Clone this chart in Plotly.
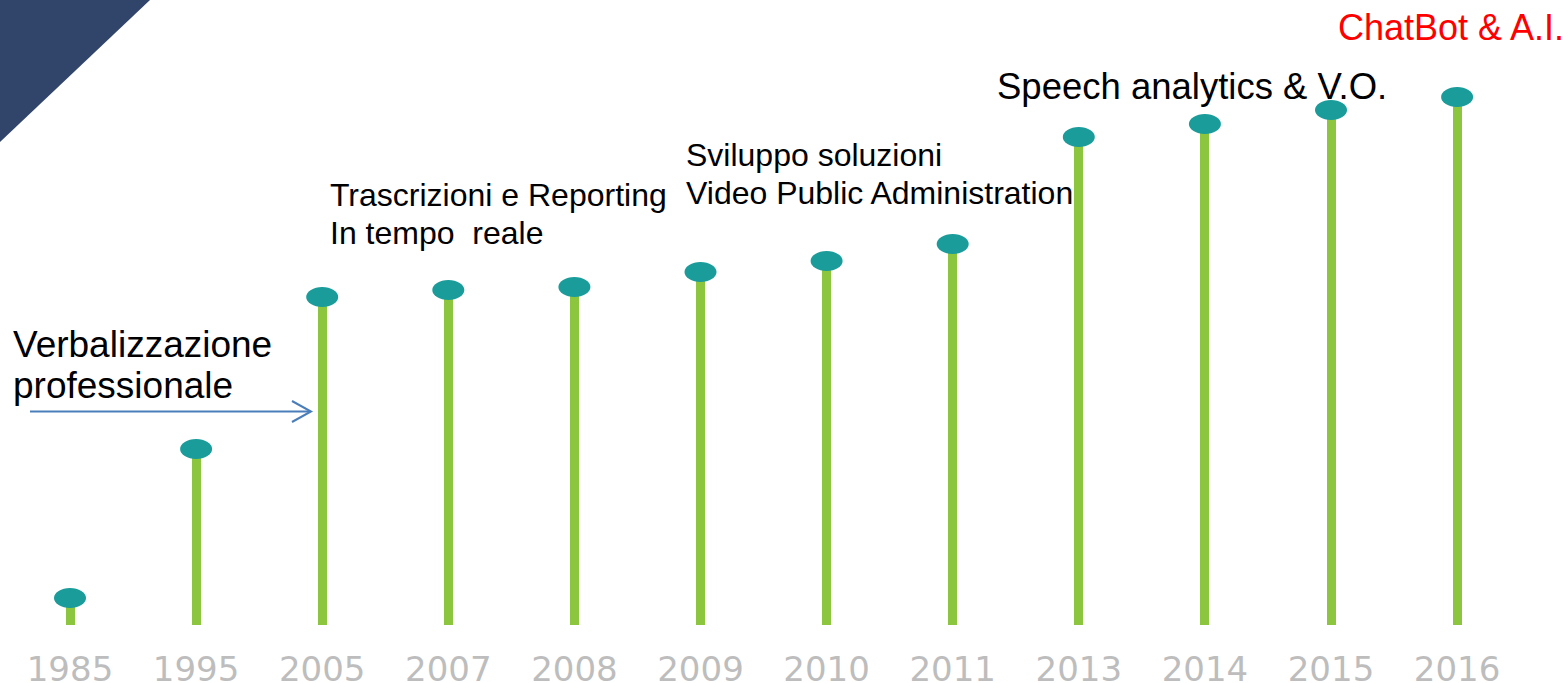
import plotly.graph_objects as go

# ---- data ----
years = ["1985", "1995", "2005", "2007", "2008", "2009", "2010", "2011", "2013", "2014", "2015", "2016"]
values = [27, 176, 328, 335, 338, 353, 364, 381, 488, 501, 515, 528]

milestones = [
    "Verbalizzazione",
    "professionale",
    "Trascrizioni e Reporting",
    "In tempo\u00a0 reale",
    "Sviluppo soluzioni",
    "Video Public Administration",
    "Speech analytics & V.O.",
    "ChatBot & A.I.",
]

# ---- styling / layout constants ----
W, H = 1568, 683
PLOT_H = 640
Y_TOP = 625          # value at the top pixel row
GREEN = "#8cc63f"
TEAL = "#199c9a"
NAVY = "#31446a"
ARROW = "#4a7ebb"
TEXT_FONT = "Liberation Sans, Arial, sans-serif"

idx = list(range(len(years)))
px_per_cat = 126.1
x_first = 70.0
xmin = -x_first / px_per_cat
xmax = xmin + W / px_per_cat

fig = go.Figure()
fig.add_trace(go.Bar(
    x=idx, y=values, width=9 / px_per_cat,
    marker=dict(color=GREEN, line=dict(width=0)),
    hoverinfo="skip", showlegend=False,
))

shapes = []
ew = 16 / px_per_cat
for i, v in zip(idx, values):
    shapes.append(dict(type="circle", xref="x", yref="y",
                       x0=i - ew, x1=i + ew, y0=v - 10, y1=v + 10,
                       fillcolor=TEAL, line=dict(width=0), layer="above"))

def px(xp):
    return xp / W

def py(yp):
    return (PLOT_H - yp) / PLOT_H

# navy triangle top-left
shapes.append(dict(type="path", xref="paper", yref="paper",
                   path=f"M 0 {py(0)} L {px(150)} {py(0)} L 0 {py(142)} Z",
                   fillcolor=NAVY, line=dict(width=0), layer="above"))
# arrow
shapes.append(dict(type="line", xref="paper", yref="paper",
                   x0=px(30), x1=px(310), y0=py(411.5), y1=py(411.5),
                   line=dict(color=ARROW, width=2)))
shapes.append(dict(type="path", xref="paper", yref="paper",
                   path=f"M {px(292)} {py(401)} L {px(311)} {py(411.5)} L {px(292)} {py(422)}",
                   line=dict(color=ARROW, width=2)))

# text annotations: (text, left px, baseline px, size, color)
specs = [
    (milestones[0], 11, 357, 37, "black"),
    (milestones[1], 11, 398, 37, "black"),
    (milestones[2], 328, 206, 32, "black"),
    (milestones[3], 328, 244, 32, "black"),
    (milestones[4], 684, 166, 32, "black"),
    (milestones[5], 684, 204, 32, "black"),
    (milestones[6], 995, 99, 36.5, "black"),
    (milestones[7], 1336, 40, 36, "#ff0000"),
]
annotations = []
for t, xl, base, size, col in specs:
    yc = base - 0.3465 * size
    annotations.append(dict(text=t, xref="paper", yref="paper",
                            x=px(xl), y=py(yc), xanchor="left", yanchor="middle",
                            showarrow=False,
                            font=dict(family=TEXT_FONT, size=size, color=col)))

fig.update_layout(
    width=W, height=H, autosize=False,
    margin=dict(l=0, r=0, t=0, b=H - PLOT_H, autoexpand=False),
    paper_bgcolor="white", plot_bgcolor="white",
    xaxis=dict(range=[xmin, xmax], tickmode="array", tickvals=idx, ticktext=years,
               automargin=False,
               showgrid=False, zeroline=False, showline=False, ticks="",
               ticklabelstandoff=6,
               tickfont=dict(family="DejaVu Sans", size=34, color="#bdbdbd"),
               fixedrange=True),
    yaxis=dict(range=[Y_TOP - PLOT_H, Y_TOP], visible=False, automargin=False,
               fixedrange=True),
    shapes=shapes,
    annotations=annotations,
    bargap=0,
)

post = (
    "document.documentElement.style.margin='0';"
    "document.body.style.margin='0';"
    "document.documentElement.style.overflow='hidden';"
    "document.body.style.overflow='hidden';"
    "var gd=document.getElementById('{plot_id}');"
    "gd.style.position='fixed';gd.style.top='0px';gd.style.left='0px';"
)

fig.write_html("out.html", config={"displayModeBar": False}, post_script=post)
